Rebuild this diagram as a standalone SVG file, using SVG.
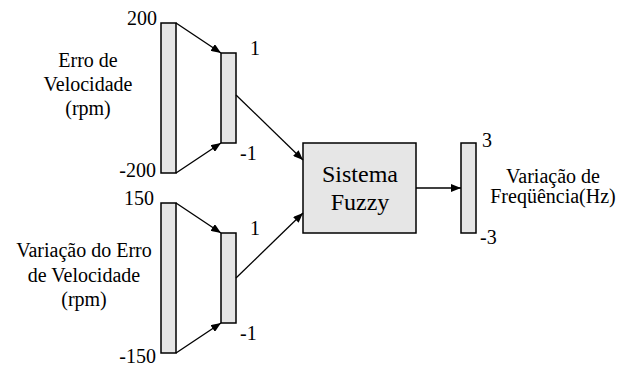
<svg xmlns="http://www.w3.org/2000/svg" width="623" height="368" viewBox="0 0 623 368">
<defs>
<style>
.bar{fill:#e6e6e6;stroke:#000;stroke-width:1.5}
.ln{stroke:#000;stroke-width:1.3;fill:none;marker-end:url(#ah)}
text{font-family:'Liberation Serif','Times New Roman','DejaVu Serif',serif;fill:#000;font-size:20px}
.c{text-anchor:middle}
.r{text-anchor:end}
.big{font-size:24px}
</style>
<marker id="ah" viewBox="0 0 10 8" refX="10" refY="4" markerWidth="10" markerHeight="8" markerUnits="userSpaceOnUse" orient="auto">
<path d="M0,0 L10,4 L0,8 z" fill="#000"/>
</marker>
</defs>
<rect width="623" height="368" fill="#fff"/>
<g id="in1">
<rect class="bar" x="161" y="23" width="15" height="150"/>
<text class="r" x="157" y="25">200</text>
<text class="r" x="156" y="177">-200</text>
<text class="c" x="88" y="67">Erro de</text>
<text class="c" x="88" y="91">Velocidade</text>
<text class="c" x="88" y="115">(rpm)</text>
</g>
<g id="norm1">
<rect class="bar" x="221" y="53" width="15" height="90"/>
<text x="250" y="55">1</text>
<text x="240" y="160">-1</text>
</g>
<g id="in2">
<rect class="bar" x="161" y="203" width="15" height="150"/>
<text class="r" x="154" y="205">150</text>
<text class="r" x="156" y="363">-150</text>
<text class="c" x="84" y="257">Variação do Erro</text>
<text class="c" x="84" y="282">de Velocidade</text>
<text class="c" x="84" y="306">(rpm)</text>
</g>
<g id="norm2">
<rect class="bar" x="221" y="233" width="15" height="90"/>
<text x="250" y="235">1</text>
<text x="240" y="340">-1</text>
</g>
<g id="fuzzy">
<rect class="bar" x="303" y="143" width="113" height="90"/>
<text class="big c" x="360" y="182">Sistema</text>
<text class="big c" x="360" y="210">Fuzzy</text>
</g>
<g id="out">
<rect class="bar" x="461" y="143" width="15" height="90"/>
<text x="482" y="147">3</text>
<text x="480" y="244">-3</text>
<text class="c" x="553" y="183">Variação de</text>
<text class="c" x="553" y="203">Freqüência(Hz)</text>
</g>
<g id="connectors">
<line class="ln" x1="176" y1="23" x2="221" y2="53"/>
<line class="ln" x1="176" y1="173" x2="221" y2="143"/>
<line class="ln" x1="176" y1="203" x2="221" y2="233"/>
<line class="ln" x1="176" y1="353" x2="221" y2="323"/>
<line class="ln" x1="236" y1="95" x2="303" y2="160"/>
<line class="ln" x1="236" y1="278" x2="303" y2="213"/>
<line class="ln" x1="416" y1="188" x2="461" y2="188"/>
</g>
</svg>
